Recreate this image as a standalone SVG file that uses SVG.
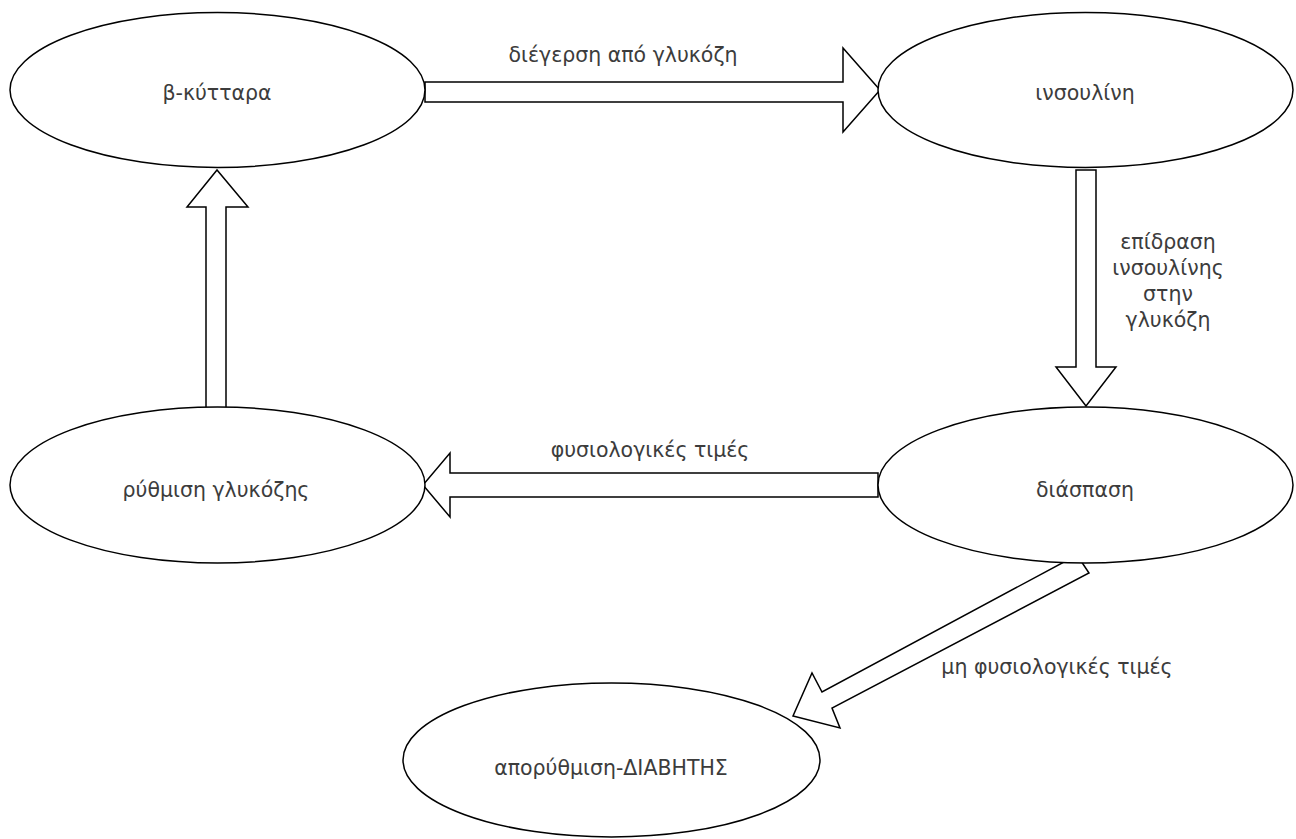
<svg xmlns="http://www.w3.org/2000/svg" width="1296" height="839" viewBox="0 0 1296 839">
<style>
.node{fill:#fff;stroke:#000;stroke-width:1.5}
.arr{fill:#fff;stroke:#000;stroke-width:1.5;stroke-linejoin:miter}
.t{font-family:"DejaVu Sans","Liberation Sans",Arial,sans-serif;font-size:20.5px;fill:#3c3c3c;text-anchor:middle;dominant-baseline:central}
</style>
<rect width="1296" height="839" fill="#fff"/>
<g id="connectors">
<g id="c1"><polygon class="arr" points="425,82 843,82 843,48 880,90 843,132 843,102 425,102"/><text class="t" x="623" y="55">διέγερση από γλυκόζη</text></g>
<g id="c2"><polygon class="arr" points="1076,170 1096,170 1096,367 1116,367 1086,406 1056,367 1076,367"/><text class="t" x="1168" y="242">επίδραση</text><text class="t" x="1168" y="268">ινσουλίνης</text><text class="t" x="1168" y="294">στην</text><text class="t" x="1168" y="320">γλυκόζη</text></g>
<g id="c3"><polygon class="arr" points="878,473 450,473 450,453 423,485 450,517 450,497 878,497"/><text class="t" x="650" y="450">φυσιολογικές τιμές</text></g>
<g id="c4"><polygon class="arr" points="206,415 226,415 226,207 248,207 217,170 187,207 206,207"/></g>
<g id="c5"><polygon class="arr" points="1077,555 1089,573 832,708 840,728 793,716 812,673 822,692"/><text class="t" x="1057" y="667">μη φυσιολογικές τιμές</text></g>
</g>
<g id="n1"><ellipse class="node" cx="217.5" cy="90" rx="207.5" ry="77.5"/><text class="t" x="217" y="93">β-κύτταρα</text></g>
<g id="n2"><ellipse class="node" cx="1085.5" cy="90" rx="207.5" ry="77.5"/><text class="t" x="1085" y="93">ινσουλίνη</text></g>
<g id="n3"><ellipse class="node" cx="217.5" cy="485" rx="207.5" ry="78"/><text class="t" x="216" y="490">ρύθμιση γλυκόζης</text></g>
<g id="n4"><ellipse class="node" cx="1085.5" cy="485" rx="207.5" ry="78"/><text class="t" x="1085" y="490">διάσπαση</text></g>
<g id="n5"><ellipse class="node" cx="611.5" cy="760" rx="208.5" ry="77"/><text class="t" x="611" y="768">απορύθμιση-ΔΙΑΒΗΤΗΣ</text></g>
</svg>
